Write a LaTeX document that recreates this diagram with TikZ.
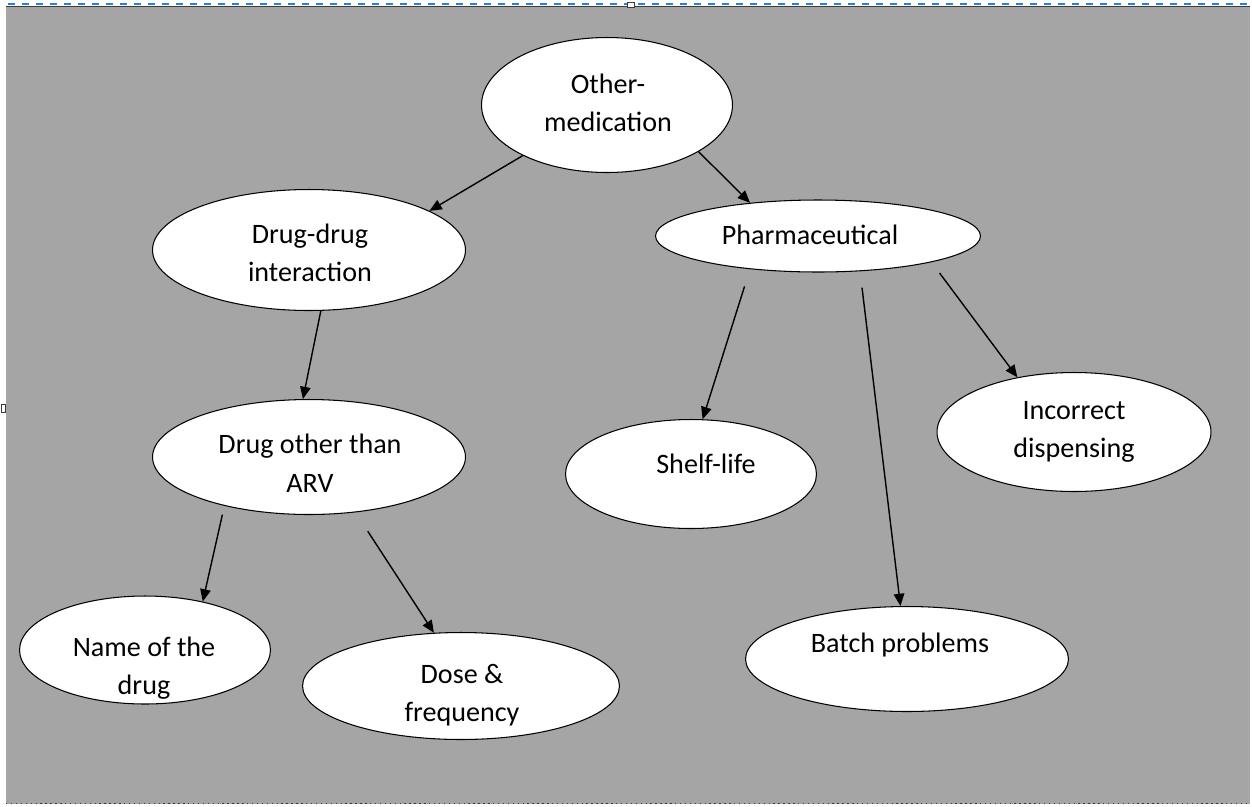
\documentclass[tikz,border=0pt]{standalone}
\usepackage{fontspec}
\setmainfont{Carlito}
\usetikzlibrary{shapes.geometric,arrows.meta}
\definecolor{panelgray}{RGB}{165,165,165}
\definecolor{selblue}{RGB}{35,130,225}
\definecolor{edgegray}{RGB}{60,60,60}

\tikzset{
  bubble/.style={ellipse,draw=black,fill=white,line width=0.6pt,inner sep=0pt},
  lbl/.style={align=center,font=\fontsize{16}{22}\selectfont},
  link/.style={->,line width=0.8pt}
}

\begin{document}
\begin{tikzpicture}[x=0.02cm,y=-0.02cm,>={Triangle[length=7pt,width=6pt]}]
       \useasboundingbox (0,0) rectangle (1252,806);
       % panel
       \fill[panelgray] (6,6) rectangle (1250,804);
       \draw[edgegray,line width=0.8pt] (6,6.5) -- (1250,6.5);
       \draw[edgegray,line width=0.8pt,dotted] (6,803.5) -- (1250,803.5);
       \draw[selblue,line width=1.2pt,dash pattern=on 0.14cm off 0.14cm] (8,4) -- (1250,4);
       \draw[edgegray,fill=white,line width=0.5pt] (1,404) rectangle (5,412);
       \draw[edgegray,fill=white,line width=0.5pt] (627,2) rectangle (634,7);

       % bubbles
       \node[bubble,minimum width=5.02cm,minimum height=2.70cm] (other) at (607,105) {};
       \node[bubble,minimum width=6.26cm,minimum height=2.42cm] (drugdrug) at (309,250) {};
       \node[bubble,minimum width=6.50cm,minimum height=1.44cm] (pharm) at (818,236) {};
       \node[bubble,minimum width=6.26cm,minimum height=2.30cm] (drugother) at (309,457) {};
       \node[bubble,minimum width=5.02cm,minimum height=2.18cm] (shelf) at (691,474) {};
       \node[bubble,minimum width=5.48cm,minimum height=2.38cm] (incorrect) at (1074,432) {};
       \node[bubble,minimum width=5.02cm,minimum height=2.16cm] (name) at (145,650) {};
       \node[bubble,minimum width=6.34cm,minimum height=2.14cm] (dose) at (461,686) {};
       \node[bubble,minimum width=6.46cm,minimum height=2.10cm] (batch) at (907,659) {};

       % labels
       \node[lbl] (other-t) at (608,103) {Other-\\medication};
       \node[lbl] (drugdrug-t) at (310,253) {Drug-drug\\interaction};
       \node[lbl] (pharm-t) at (810,235) {Pharmaceutical};
       \node[lbl] (drugother-t) at (310,463) {Drug other than\\ARV};
       \node[lbl] (shelf-t) at (706,464) {Shelf-life};
       \node[lbl] (incorrect-t) at (1074,432) {Incorrect\\dispensing};
       \node[lbl] (name-t) at (144,668) {Name of the\\drug};
       \node[lbl] (dose-t) at (462,695) {Dose \&\\frequency};
       \node[lbl] (batch-t) at (900,645) {Batch problems};

       % links
       \draw[link] (other.211) -- (drugdrug.18);
       \draw[link] (other.333) -- (pharm.154);
       \draw[link] (drugdrug.281) -- (drugother.96);
       \draw[link,shorten <=0.36cm] (pharm.206) -- (shelf.78);
       \draw[link,shorten <=0.33cm] (pharm.320) -- (batch.97);
       \draw[link,shorten <=0.27cm] (pharm.347) -- (incorrect.136);
       \draw[link,shorten <=0.18cm] (drugother.210) -- (name.40);
       \draw[link,shorten <=0.45cm] (drugother.310) -- (dose.117);
      \end{tikzpicture}
\end{document}
